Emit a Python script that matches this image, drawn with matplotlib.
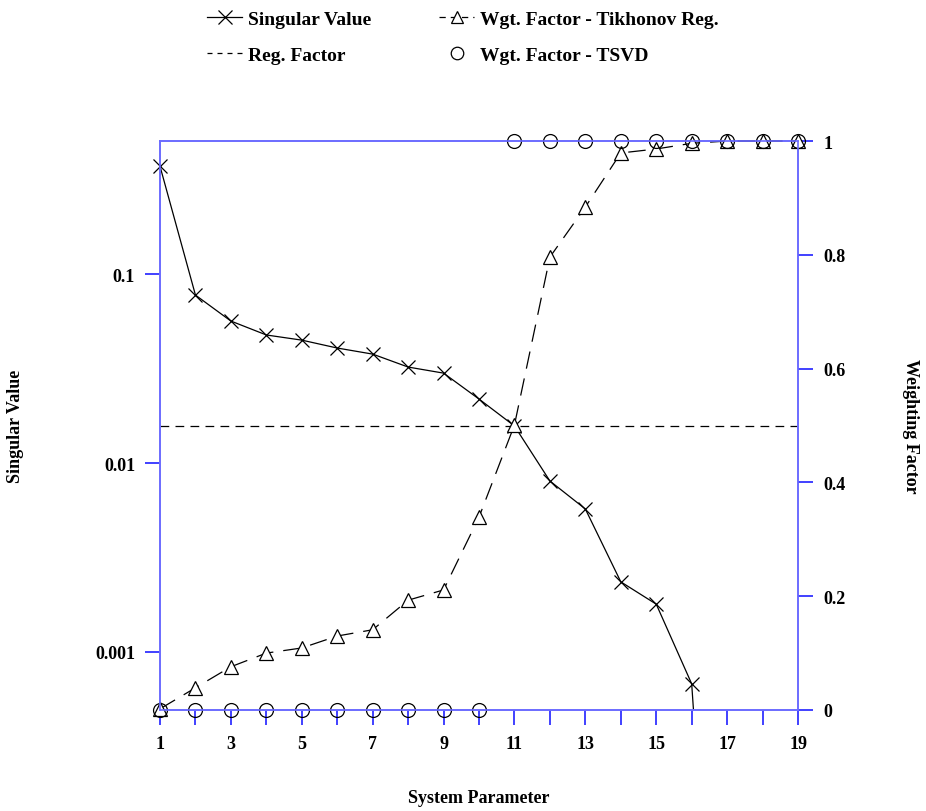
import matplotlib
matplotlib.use('Agg')
import matplotlib.pyplot as plt
import matplotlib.ticker as ticker
from matplotlib.lines import Line2D
import numpy as np

# data
params = np.arange(1, 20)
singular = [0.372, 0.0774, 0.0564, 0.0476, 0.0447, 0.0406, 0.0377, 0.0322, 0.0299,
            0.0218, 0.0157, 0.00803, 0.00571, 0.00235, 0.00179, 0.000678,
            1.2e-6, 8e-7, 5e-7]
reg_factor = 0.0157
w_tikhonov = [0.002, 0.039, 0.076, 0.100, 0.109, 0.130, 0.141, 0.193, 0.211, 0.339,
              0.501, 0.796, 0.884, 0.979, 0.986, 0.996, 1.0, 1.0, 1.0]
w_tsvd = [0] * 10 + [1] * 9

left_ticks = [0.001, 0.01, 0.1]
left_labels = ['0.001', '0.01', '0.1']
right_ticks = [0, 0.2, 0.4, 0.6, 0.8, 1]
right_labels = ['0', '0.2', '0.4', '0.6', '0.8', '1']

plt.rcParams['font.family'] = 'Liberation Serif'
plt.rcParams['font.weight'] = 'bold'
spine_c = '#6b6bff'
tick_c = '#2020ff'
fs = 13

fig = plt.figure(figsize=(9.26, 8.12), dpi=100)
ax = fig.add_axes([0.1728, 0.1244, 0.689, 0.7007])
ax2 = ax.twinx()

ax.set_yscale('log')
ax.plot(params, singular, color='black', lw=0.9, label='Singular Value')
ylo = 0.000493
vis = [i for i, v in enumerate(singular) if v >= ylo]
ax.plot(params[vis], [singular[i] for i in vis], ls='none', marker='x', ms=10,
        mew=0.9, color='black', clip_on=False, zorder=3)
ax.axhline(reg_factor, color='black', lw=0.9, ls=(0, (7, 5)), label='Reg. Factor')
ax.set_ylim(ylo, 0.506)
ax.set_xlim(1, 19)

ax2.plot(params, w_tikhonov, color='black', lw=0.9, ls=(0, (14, 8)), marker='^', ms=10,
         mfc='white', mew=0.9, clip_on=False, label='Wgt. Factor - Tikhonov Reg.')
ax2.plot(params, w_tsvd, ls='none', marker='o', ms=10, mfc='none', mec='black', mew=0.9,
         clip_on=False, label='Wgt. Factor - TSVD')
ax2.set_ylim(0, 1)

ax.set_yticks(left_ticks)
ax.set_yticklabels(left_labels)
ax.yaxis.set_minor_locator(ticker.NullLocator())
ax.set_xticks(params)
ax.set_xticklabels([str(p) if p % 2 == 1 else '' for p in params])
ax2.set_yticks(right_ticks)
ax2.set_yticklabels(right_labels)

for a in (ax, ax2):
    for s in a.spines.values():
        s.set_color(spine_c)
        s.set_linewidth(1.2)
    a.tick_params(direction='out', length=11, width=1.2, color=tick_c,
                  labelsize=fs, pad=7)

ax.set_xlabel('System Parameter', fontsize=fs, fontweight='bold', va='center')
ax.xaxis.set_label_coords(0.5, -0.153)
ax.set_ylabel('Singular Value', fontsize=fs, fontweight='bold', va='center')
ax.yaxis.set_label_coords(-0.227, 0.5)
ax2.set_ylabel('Weighting Factor', fontsize=fs, fontweight='bold', rotation=-90,
               va='center')
ax2.yaxis.set_label_coords(1.176, 0.5)

handles = [Line2D([], [], color='black', lw=0.9, marker='x', ms=10, mew=0.9),
           Line2D([], [], color='black', lw=0.9, ls=(0, (4, 4))),
           Line2D([], [], color='black', lw=0.9, ls=(0, (5, 4)), marker='^', ms=9,
                  mfc='white', mew=0.9),
           Line2D([], [], ls='none', marker='o', ms=9, mfc='none', mec='black', mew=0.9)]
labels = ['Singular Value', 'Reg. Factor', 'Wgt. Factor - Tikhonov Reg.',
          'Wgt. Factor - TSVD']
fig.legend(handles, labels, loc='upper left', bbox_to_anchor=(0.205, 1.008), ncol=2,
           frameon=False, fontsize=14, handlelength=1.8, handletextpad=0.3,
           columnspacing=3.5, labelspacing=0.95)

plt.savefig('out.png', dpi=100)
plt.close()
